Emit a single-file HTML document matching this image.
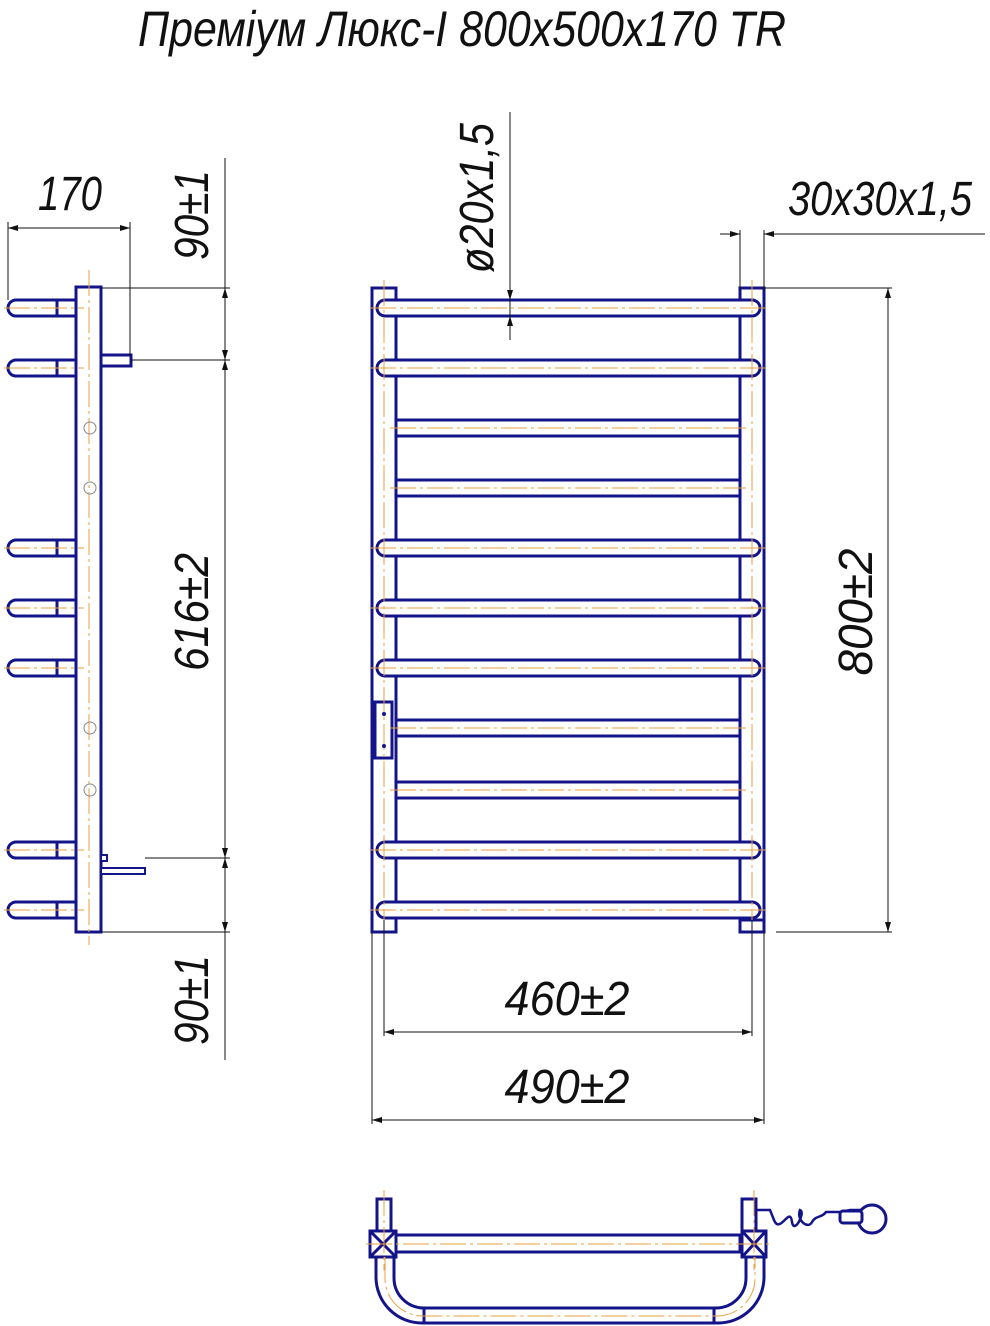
<!DOCTYPE html>
<html><head><meta charset="utf-8"><style>
html,body{margin:0;padding:0;background:#fff}
svg{display:block}
.n{stroke:#14148a;stroke-width:3;fill:#fff}
.nf{stroke:#14148a;stroke-width:3;fill:none}
.c{stroke:#e8a040;stroke-width:1;stroke-dasharray:26 4 3 4;fill:none}
.d{stroke:#111;stroke-width:1;fill:none}
text{font-family:"Liberation Sans",sans-serif;font-style:italic;fill:#111}
</style></head><body>
<svg width="990" height="1326" viewBox="0 0 990 1326" xmlns="http://www.w3.org/2000/svg">
<defs>
<marker id="a" viewBox="0 0 10 6" refX="10" refY="3" markerWidth="10" markerHeight="6" orient="auto-start-reverse"><path d="M0,0 L10,3 L0,6 z" fill="#111"/></marker>
</defs>
<text x="462" y="46" font-size="50" text-anchor="middle" textLength="648" lengthAdjust="spacingAndGlyphs">Преміум Люкс-І 800х500х170 TR</text>

<!-- SIDE VIEW -->
<g>
<g class="n">
<path d="M76,300 H16 A8,8 0 0 0 16,316 H76 Z"/><line x1="57" y1="300" x2="57" y2="316"/>
<path d="M76,360 H16 A8,8 0 0 0 16,376 H76 Z"/><line x1="57" y1="360" x2="57" y2="376"/>
<path d="M76,540 H16 A8,8 0 0 0 16,556 H76 Z"/><line x1="57" y1="540" x2="57" y2="556"/>
<path d="M76,600 H16 A8,8 0 0 0 16,616 H76 Z"/><line x1="57" y1="600" x2="57" y2="616"/>
<path d="M76,660 H16 A8,8 0 0 0 16,676 H76 Z"/><line x1="57" y1="660" x2="57" y2="676"/>
<path d="M76,842 H16 A8,8 0 0 0 16,858 H76 Z"/><line x1="57" y1="842" x2="57" y2="858"/>
<path d="M76,902 H16 A8,8 0 0 0 16,918 H76 Z"/><line x1="57" y1="902" x2="57" y2="918"/>
<rect x="76" y="287" width="25" height="645"/>
<rect x="101" y="355" width="30" height="11"/>
<rect x="101" y="868" width="44" height="6" style="stroke-width:2"/>
<rect x="101" y="855" width="6" height="6" style="stroke-width:2"/>
</g>
<g class="c">
<line x1="89" y1="270" x2="89" y2="945"/>
<line x1="4" y1="308" x2="84" y2="308"/><line x1="4" y1="368" x2="84" y2="368"/>
<line x1="4" y1="548" x2="84" y2="548"/><line x1="4" y1="608" x2="84" y2="608"/>
<line x1="4" y1="668" x2="84" y2="668"/><line x1="4" y1="850" x2="84" y2="850"/>
<line x1="4" y1="910" x2="84" y2="910"/>
</g>
<g stroke="#888" fill="none" stroke-width="1">
<circle cx="90" cy="428" r="6"/><circle cx="90" cy="488" r="6"/><circle cx="90" cy="728" r="6"/><circle cx="90" cy="790" r="6"/>
</g>
<g class="d">
<line x1="8" y1="222" x2="8" y2="300"/><line x1="130" y1="222" x2="130" y2="356"/>
<line x1="8" y1="228" x2="130" y2="228" marker-start="url(#a)" marker-end="url(#a)"/>
<line x1="101" y1="288" x2="230" y2="288"/><line x1="131" y1="360" x2="230" y2="360"/>
<line x1="145" y1="858" x2="230" y2="858"/><line x1="101" y1="932" x2="230" y2="932"/>
<line x1="225" y1="158" x2="225" y2="1060"/>
<line x1="225" y1="288" x2="225" y2="360" marker-start="url(#a)" marker-end="url(#a)"/>
<line x1="225" y1="360" x2="225" y2="858" marker-start="url(#a)" marker-end="url(#a)"/>
<line x1="225" y1="858" x2="225" y2="932" marker-start="url(#a)" marker-end="url(#a)"/>
</g>
<text x="70" y="210" font-size="48" text-anchor="middle" textLength="64" lengthAdjust="spacingAndGlyphs">170</text>
<text transform="translate(208,215) rotate(-90)" font-size="48" text-anchor="middle" textLength="90" lengthAdjust="spacingAndGlyphs">90±1</text>
<text transform="translate(208,612) rotate(-90)" font-size="48" text-anchor="middle" textLength="118" lengthAdjust="spacingAndGlyphs">616±2</text>
<text transform="translate(208,1000) rotate(-90)" font-size="48" text-anchor="middle" textLength="90" lengthAdjust="spacingAndGlyphs">90±1</text>
</g>

<!-- FRONT VIEW -->
<g>
<g class="n">
<rect x="372" y="288" width="24" height="644"/>
<rect x="740" y="288" width="24" height="644"/>
<rect x="740" y="920" width="24" height="12"/>
<rect x="377" y="300" width="383" height="16" rx="8"/>
<rect x="377" y="360" width="383" height="16" rx="8"/>
<rect x="396" y="420" width="344" height="16"/>
<rect x="396" y="480" width="344" height="16"/>
<rect x="377" y="540" width="383" height="16" rx="8"/>
<rect x="377" y="600" width="383" height="16" rx="8"/>
<rect x="377" y="660" width="383" height="16" rx="8"/>
<rect x="396" y="720" width="344" height="16"/>
<rect x="396" y="782" width="344" height="16"/>
<rect x="377" y="842" width="383" height="16" rx="8"/>
<rect x="377" y="902" width="383" height="16" rx="8"/>
<rect x="375" y="702" width="17" height="56"/>
</g>
<g class="c">
<line x1="384" y1="280" x2="384" y2="940"/><line x1="752" y1="280" x2="752" y2="940"/>
<line x1="370" y1="308" x2="768" y2="308"/><line x1="370" y1="368" x2="768" y2="368"/>
<line x1="390" y1="428" x2="746" y2="428"/><line x1="390" y1="488" x2="746" y2="488"/>
<line x1="370" y1="548" x2="768" y2="548"/><line x1="370" y1="608" x2="768" y2="608"/>
<line x1="370" y1="668" x2="768" y2="668"/><line x1="390" y1="728" x2="746" y2="728"/>
<line x1="390" y1="790" x2="746" y2="790"/><line x1="370" y1="850" x2="768" y2="850"/>
<line x1="370" y1="910" x2="768" y2="910"/>
</g>
<circle cx="384" cy="714" r="2" fill="#14148a"/><circle cx="384" cy="746" r="2" fill="#14148a"/>
<g class="d">
<line x1="510" y1="112" x2="510" y2="340"/>
<line x1="510" y1="282" x2="510" y2="300" marker-end="url(#a)"/>
<line x1="510" y1="334" x2="510" y2="316" marker-end="url(#a)"/>
<line x1="740" y1="230" x2="740" y2="290"/><line x1="764" y1="230" x2="764" y2="290"/>
<line x1="720" y1="234" x2="740" y2="234" marker-end="url(#a)"/>
<line x1="985" y1="234" x2="764" y2="234" marker-end="url(#a)"/>
<line x1="764" y1="288" x2="892" y2="288"/><line x1="776" y1="932" x2="892" y2="932"/>
<line x1="888" y1="288" x2="888" y2="932" marker-start="url(#a)" marker-end="url(#a)"/>
<line x1="384" y1="920" x2="384" y2="1036"/><line x1="752" y1="920" x2="752" y2="1036"/>
<line x1="384" y1="1032" x2="752" y2="1032" marker-start="url(#a)" marker-end="url(#a)"/>
<line x1="372" y1="932" x2="372" y2="1124"/><line x1="764" y1="932" x2="764" y2="1124"/>
<line x1="372" y1="1120" x2="764" y2="1120" marker-start="url(#a)" marker-end="url(#a)"/>
</g>
<text transform="translate(493,198) rotate(-90)" font-size="48" text-anchor="middle" textLength="150" lengthAdjust="spacingAndGlyphs">ø20x1,5</text>
<text x="880" y="215" font-size="48" text-anchor="middle" textLength="184" lengthAdjust="spacingAndGlyphs">30x30x1,5</text>
<text transform="translate(872,612) rotate(-90)" font-size="48" text-anchor="middle" textLength="127" lengthAdjust="spacingAndGlyphs">800±2</text>
<text x="567" y="1015" font-size="48" text-anchor="middle" textLength="125" lengthAdjust="spacingAndGlyphs">460±2</text>
<text x="567" y="1103" font-size="48" text-anchor="middle" textLength="125" lengthAdjust="spacingAndGlyphs">490±2</text>
</g>

<!-- BOTTOM VIEW -->
<g>
<g class="n">
<path d="M376,1257 V1278 A46,46 0 0 0 422,1323 H718 A46,46 0 0 0 764,1278 V1257 H746 V1278 A30,30 0 0 1 716,1308 H424 A30,30 0 0 1 394,1278 V1257 Z"/>
<line x1="424" y1="1308" x2="424" y2="1323"/><line x1="714" y1="1308" x2="714" y2="1323"/>
<rect x="377" y="1199" width="14" height="32"/>
<rect x="742" y="1199" width="14" height="32"/>
<rect x="396" y="1235" width="344" height="17"/>
<rect x="370" y="1231" width="26" height="26"/>
<rect x="742" y="1231" width="24" height="26"/>
<path class="nf" d="M370,1231 L396,1257 M396,1231 L370,1257 M742,1231 L766,1257 M766,1231 L742,1257"/>
<path class="nf" d="M756,1210 H770 L774,1220 C780,1235 790,1205 792,1222 C794,1235 806,1212 800,1210 C796,1220 808,1230 812,1222 C816,1215 822,1218 826,1212 H840 L850,1210 H862" style="stroke-width:2.5"/>
<circle class="n" cx="872" cy="1219" r="14"/>
<rect class="n" x="840" y="1211" width="22" height="12" rx="3"/>
</g>
<g class="c">
<line x1="366" y1="1244" x2="772" y2="1244"/>
<line x1="384" y1="1190" x2="384" y2="1270"/><line x1="754" y1="1190" x2="754" y2="1270"/>
<path d="M385,1257 V1278 A38,38 0 0 0 423,1316 H717 A38,38 0 0 0 755,1278 V1257"/>
</g>
</g>
</svg>
</body></html>
